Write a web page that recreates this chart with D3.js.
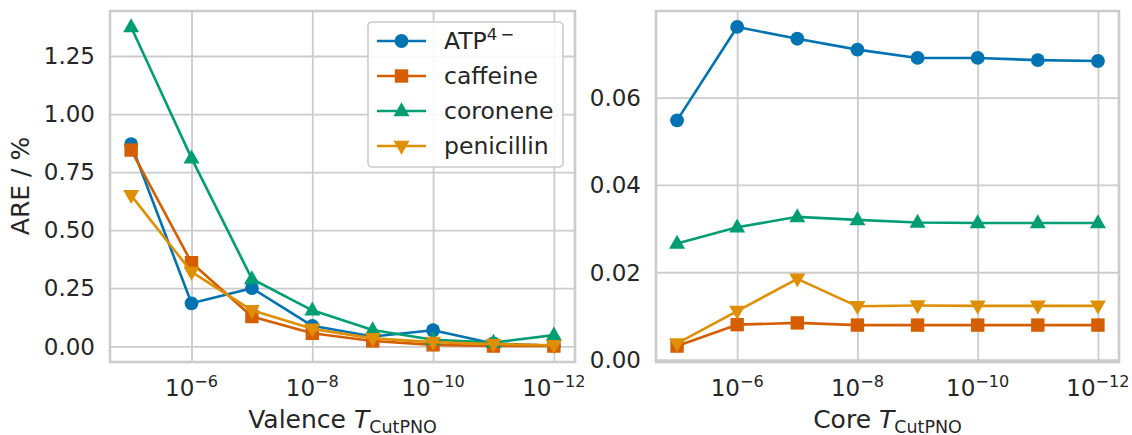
<!DOCTYPE html>
<html>
<head>
<meta charset="utf-8">
<script src="https://cdn.jsdelivr.net/npm/d3@7"></script>
<style>
  html, body { margin: 0; padding: 0; background: #fff; }
  svg { display: block; font-family: "DejaVu Sans", sans-serif; }
</style>
</head>
<body>
<svg id="chart" width="1132" height="435"></svg>
<script>
// PNO truncation thresholds (x positions, shared by both panels)
const thresholds = [1e-5, 1e-6, 1e-7, 1e-8, 1e-9, 1e-10, 1e-11, 1e-12];
const xTickValues = [1e-6, 1e-8, 1e-10, 1e-12];

// Series names as shown in the legend
const molecules = ["ATP", "caffeine", "coronene", "penicillin"];

// Absolute relative error (%) when varying the valence threshold
const valenceATP        = [0.87, 0.185, 0.25, 0.088, 0.042, 0.069, 0.012, 0.002];
const valenceCaffeine   = [0.845, 0.36, 0.128, 0.056, 0.023, 0.006, 0.001, 0.001];
const valenceCoronene   = [1.375, 0.81, 0.29, 0.155, 0.07, 0.028, 0.016, 0.048];
const valencePenicillin = [0.65, 0.32, 0.155, 0.075, 0.034, 0.018, 0.01, 0.004];

// Absolute relative error (%) when varying the core threshold
const coreATP        = [0.0548, 0.0762, 0.0735, 0.0710, 0.0691, 0.0691, 0.0686, 0.0684];
const coreCaffeine   = [0.0031, 0.0080, 0.0084, 0.0079, 0.0079, 0.0079, 0.0079, 0.0079];
const coreCoronene   = [0.0266, 0.0303, 0.0327, 0.0320, 0.0314, 0.0313, 0.0313, 0.0313];
const corePenicillin = [0.0037, 0.0111, 0.0185, 0.0122, 0.0124, 0.0123, 0.0123, 0.0123];

const valenceYTicks = [0, 0.25, 0.5, 0.75, 1.0, 1.25];
const coreYTicks = [0, 0.02, 0.04, 0.06];

const colors = {ATP: "#0173b2", caffeine: "#d55e00", coronene: "#029e73", penicillin: "#de8f05"};
const shapes = {ATP: "circle", caffeine: "square", coronene: "triUp", penicillin: "triDown"};

const TEXT = "#262626";
const GRID = "#cccccc";
const TICK_FS = 23;
const LABEL_FS = 25;
const LEGEND_FS = 23.5;

const svg = d3.select("#chart");

function markerPath(shape) {
  const r = 6.9;
  switch (shape) {
    case "circle":
      return d3.symbol(d3.symbolCircle, Math.PI * r * r)();
    case "square":
      return "M-6.7,-6.7H6.7V6.7H-6.7Z";
    case "triUp":
      return "M0,-8.7L8,5.3L-8,5.3Z";
    case "triDown":
      return "M0,8.7L8,-5.3L-8,-5.3Z";
  }
}

// Pad a data extent by 5% on each side (log-space for x)
function padLog(vals) {
  const lo = Math.log10(d3.min(vals)), hi = Math.log10(d3.max(vals));
  const m = (hi - lo) * 0.05;
  return [Math.pow(10, hi + m), Math.pow(10, lo - m)];
}
function padLin(vals) {
  const [lo, hi] = d3.extent(vals);
  const m = (hi - lo) * 0.05;
  return [lo - m, hi + m];
}

function drawPanel(opts) {
  const {left, right, top, bottom, series, yTicks, xName} = opts;
  const g = svg.append("g");

  const x = d3.scaleLog().domain(padLog(thresholds)).range([left, right]);
  const allY = series.flatMap(s => s.values);
  const y = d3.scaleLinear().domain(padLin(allY)).range([bottom, top]);

  // grid lines
  const xAxis = d3.axisBottom(x).tickValues(xTickValues).tickSize(-(bottom - top)).tickFormat("");
  const gx = g.append("g").attr("transform", `translate(0,${bottom})`).call(xAxis);
  const yAxis = d3.axisLeft(y).tickValues(yTicks).tickSize(-(right - left)).tickFormat("");
  const gy = g.append("g").attr("transform", `translate(${left},0)`).call(yAxis);
  [gx, gy].forEach(a => {
    a.select(".domain").remove();
    a.selectAll(".tick line").attr("stroke", GRID).attr("stroke-width", 1.8);
  });

  // frame
  g.append("rect")
    .attr("x", left).attr("y", top)
    .attr("width", right - left).attr("height", bottom - top)
    .attr("fill", "none").attr("stroke", GRID).attr("stroke-width", 2.6);

  // x tick labels: 10^{-n}
  xTickValues.forEach(v => {
    const e = Math.round(Math.log10(v));
    const t = g.append("text")
      .attr("x", x(v)).attr("y", bottom + 34)
      .attr("text-anchor", "middle")
      .attr("fill", TEXT).attr("font-size", TICK_FS);
    t.append("tspan").text("10");
    t.append("tspan").attr("dy", -9).attr("font-size", TICK_FS * 0.7).text("\u2212" + Math.abs(e));
  });

  // y tick labels
  yTicks.forEach(v => {
    g.append("text")
      .attr("x", left - 15).attr("y", y(v))
      .attr("dy", "0.36em")
      .attr("text-anchor", "end")
      .attr("fill", TEXT).attr("font-size", TICK_FS)
      .text(d3.format(".2f")(v));
  });

  // x axis label: "<name> T_CutPNO"
  const xl = g.append("text")
    .attr("x", (left + right) / 2).attr("y", 428)
    .attr("text-anchor", "middle")
    .attr("fill", TEXT).attr("font-size", LABEL_FS);
  xl.append("tspan").text(xName + " ");
  xl.append("tspan").attr("font-style", "italic").text("T");
  xl.append("tspan").attr("dy", 4.5).attr("font-size", LABEL_FS * 0.7).text("CutPNO");

  // series
  const line = d3.line().x((d, i) => x(thresholds[i])).y(d => y(d));
  series.forEach(s => {
    const c = colors[s.name];
    g.append("path")
      .attr("d", line(s.values))
      .attr("fill", "none").attr("stroke", c)
      .attr("stroke-width", 2.6).attr("stroke-linejoin", "round").attr("stroke-linecap", "round");
    g.selectAll(null).data(s.values).join("path")
      .attr("transform", (d, i) => `translate(${x(thresholds[i])},${y(d)})`)
      .attr("d", markerPath(shapes[s.name]))
      .attr("fill", c);
  });
  return {x, y};
}

drawPanel({
  left: 110, right: 575, top: 11, bottom: 362,
  xName: "Valence",
  yTicks: valenceYTicks,
  series: [
    {name: "ATP", values: valenceATP},
    {name: "caffeine", values: valenceCaffeine},
    {name: "coronene", values: valenceCoronene},
    {name: "penicillin", values: valencePenicillin}
  ]
});

drawPanel({
  left: 656, right: 1119, top: 11, bottom: 362,
  xName: "Core",
  yTicks: coreYTicks,
  series: [
    {name: "ATP", values: coreATP},
    {name: "caffeine", values: coreCaffeine},
    {name: "coronene", values: coreCoronene},
    {name: "penicillin", values: corePenicillin}
  ]
});

// y axis label of the left panel
svg.append("text")
  .attr("transform", "translate(29,186) rotate(-90)")
  .attr("text-anchor", "middle")
  .attr("fill", TEXT).attr("font-size", LABEL_FS)
  .text("ARE / %");

// legend
const leg = svg.append("g").attr("transform", "translate(368,22)");
leg.append("rect")
  .attr("width", 195).attr("height", 145).attr("rx", 4)
  .attr("fill", "#ffffff").attr("fill-opacity", 0.85)
  .attr("stroke", GRID).attr("stroke-width", 1.6);
molecules.forEach((m, i) => {
  const cy = 19 + i * 35;
  const c = colors[m];
  leg.append("line")
    .attr("x1", 9).attr("x2", 58).attr("y1", cy).attr("y2", cy)
    .attr("stroke", c).attr("stroke-width", 2.6);
  leg.append("path")
    .attr("transform", `translate(33.5,${cy})`)
    .attr("d", markerPath(shapes[m]))
    .attr("fill", c);
  const t = leg.append("text")
    .attr("x", 76).attr("y", cy).attr("dy", "0.36em")
    .attr("fill", TEXT).attr("font-size", LEGEND_FS);
  if (m === "ATP") {
    t.append("tspan").text("ATP");
    t.append("tspan").attr("dy", -9).attr("font-size", LEGEND_FS * 0.7).text("4\u2009\u2212");
  } else {
    t.text(m);
  }
});
</script>
</body>
</html>
